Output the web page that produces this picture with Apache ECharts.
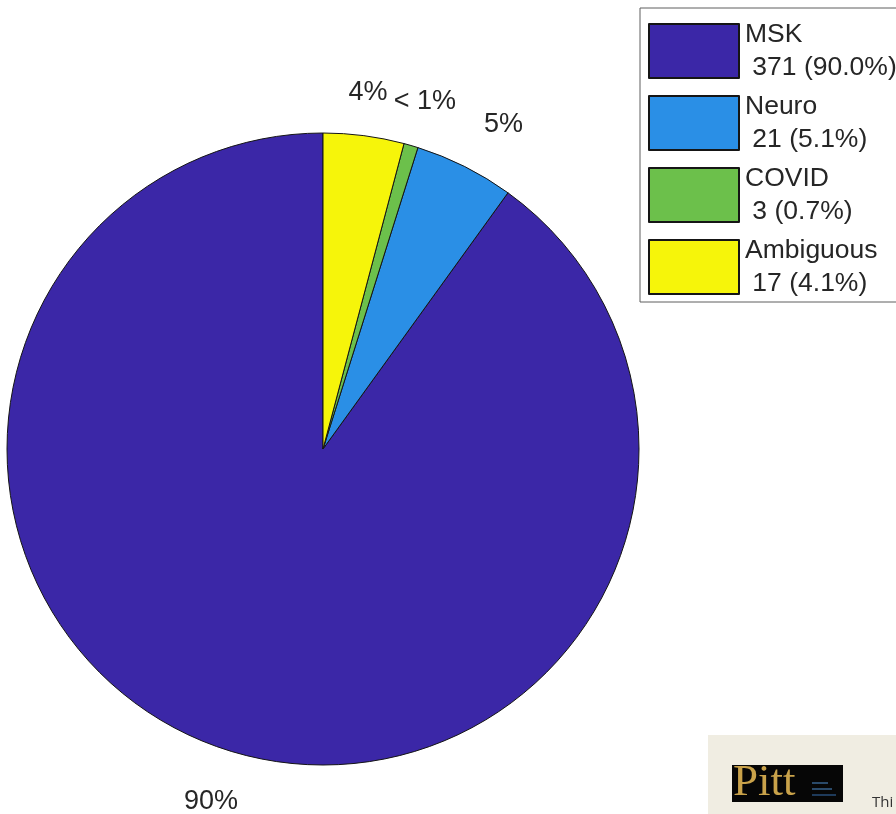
<!DOCTYPE html>
<html>
<head>
<meta charset="utf-8">
<script src="https://cdn.jsdelivr.net/npm/echarts@6/dist/echarts.min.js"></script>
<style>html,body{margin:0;padding:0;background:#fff;}#c{width:896px;height:814px;}</style>
</head>
<body>
<div id="c"></div>
<script>
// Data
const categories = ['MSK', 'Neuro', 'COVID', 'Ambiguous'];
const counts = [371, 21, 3, 17];
const sliceLabels = ['90%', '5%', '< 1%', '4%'];
const legendPercents = ['90.0%', '5.1%', '0.7%', '4.1%'];
const colors = ['#3b27a7', '#2a8fe6', '#6cc04b', '#f6f50a'];

const chart = echarts.init(document.getElementById('c'));
const seriesData = categories.map((c, i) => ({
  name: c,
  value: counts[i],
  itemStyle: { color: colors[i] },
  label: { formatter: sliceLabels[i] }
}));

const labelAlign = ['center', 'left', 'center', 'center'];
const labelVAlign = ['top', 'bottom', 'bottom', 'bottom'];
const labelDx = [0, 0, 0, -5];
const labelDy = [8, 0, 0, 2];

chart.setOption({
  animation: false,
  backgroundColor: '#ffffff',
  legend: {
    orient: 'vertical',
    left: 648,
    top: 18,
    padding: 0,
    itemWidth: 90,
    itemHeight: 54,
    itemGap: 6,
    icon: 'rect',
    data: categories,
    selectedMode: false,
    formatter: function (name) {
      const i = categories.indexOf(name);
      return name + '\n ' + counts[i] + ' (' + legendPercents[i] + ')';
    },
    textStyle: {
      fontFamily: 'Liberation Sans, Arial, sans-serif',
      fontSize: 26.5,
      lineHeight: 33,
      color: '#262626',
      padding: [0, 0, 0, 1]
    }
  },
  graphic: [
    { type: 'rect', z: -1, shape: { x: 640, y: 8, width: 300, height: 294 },
      style: { fill: '#ffffff', stroke: '#5f5f5f', lineWidth: 1 } },
    { type: 'rect', shape: { x: 708, y: 735, width: 200, height: 90 },
      style: { fill: '#f0ede2' } },
    { type: 'rect', shape: { x: 732, y: 765, width: 111, height: 37 },
      style: { fill: '#060606' } },
    { type: 'text', x: 733, y: 761,
      style: { text: 'Pitt', fontFamily: 'Liberation Serif, Times New Roman, serif',
        fontSize: 45, fill: '#c9a24a' } },
    { type: 'rect', shape: { x: 812, y: 782, width: 16, height: 2 }, style: { fill: '#2a4a6a' } },
    { type: 'rect', shape: { x: 812, y: 788, width: 20, height: 2 }, style: { fill: '#2a4a6a' } },
    { type: 'rect', shape: { x: 812, y: 794, width: 24, height: 2 }, style: { fill: '#1e3a5a' } },
    { type: 'text', x: 872, y: 795,
      style: { text: 'Thi', fontFamily: 'Open Sans, DejaVu Sans, sans-serif',
        fontSize: 15, fill: '#333333' } }
  ],
  series: [{
    type: 'pie',
    center: [323, 449],
    radius: [0, 316],
    startAngle: 90,
    clockwise: false,
    avoidLabelOverlap: false,
    data: seriesData,
    itemStyle: { borderColor: '#151515', borderWidth: 1 },
    label: {
      show: true,
      position: 'outside',
      fontFamily: 'Liberation Sans, Arial, sans-serif',
      fontSize: 27,
      color: '#262626'
    },
    labelLine: { show: false, length: 32, length2: 0 },
    labelLayout: function (params) {
      const i = params.dataIndex;
      return { align: labelAlign[i], verticalAlign: labelVAlign[i], dx: labelDx[i], dy: labelDy[i] };
    },
    emphasis: { disabled: true }
  }]
});
</script>
</body>
</html>
